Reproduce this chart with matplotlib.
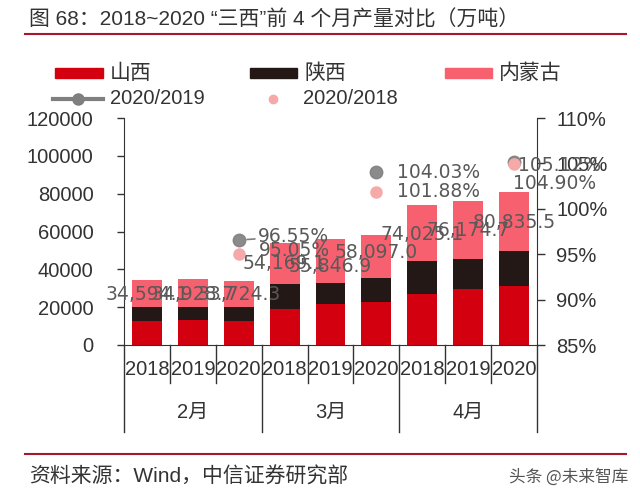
import matplotlib
matplotlib.use('Agg')
import matplotlib.pyplot as plt
from matplotlib.lines import Line2D
from matplotlib.patches import Rectangle
import matplotlib.transforms as mtransforms

plt.rcParams['font.family'] = ['Liberation Sans', 'Noto Sans CJK SC']

# data (万吨)
months = ['2月', '3月', '4月']
years = ['2018', '2019', '2020']
shanxi = [12700, 13200, 12700, 19200, 21850, 22600, 27150, 29800, 31200]
shaanxi = [7560, 7060, 7560, 12900, 10790, 12800, 17450, 15500, 18700]
neimeng = [14334.1, 14668.7, 13464.3, 22069.1, 23206.9, 22697.0, 29425.1, 30874.7, 30935.5]
totals = [34594.1, 34928.7, 33724.3, 54169.1, 55846.9, 58097.0, 74025.1, 76174.7, 80835.5]
pct_2019 = [0.9655, 1.0403, 1.0512]
pct_2018 = [0.9505, 1.0188, 1.0490]

# label offsets in pixels (layout only)
total_dy = [-15, -16, -13, -21, -27, -17, -30, -30, -30]
off_2019 = [(19, 4), (21, 0), (4, -3)]
off_2018 = [(20, 3), (21, 0), (-1, -19)]

red = '#d3000f'
black = '#231815'
pink = '#f6606f'
gray = '#7f7f7f'
lpink = '#f6a9a9'
txtc = '#333333'
lblc = '#595959'

fig = plt.figure(figsize=(6.4, 4.98), dpi=100)
ax = fig.add_axes([124/640, 1-345/498, 413/640, 227/498])

x = list(range(len(totals)))
w = 0.65
bot2 = shanxi
bot3 = [a + b for a, b in zip(shanxi, shaanxi)]
ax.bar(x, shanxi, w, color=red, zorder=2)
ax.bar(x, shaanxi, w, bottom=bot2, color=black, zorder=2)
ax.bar(x, neimeng, w, bottom=bot3, color=pink, zorder=2)

for i, t in enumerate(totals):
    ax.annotate('{:,.1f}'.format(t), (x[i], t), xytext=(0, total_dy[i]),
                textcoords='offset pixels', ha='center', va='center',
                fontsize=13.5, family='DejaVu Sans', color=lblc,
                annotation_clip=False, zorder=5)

ax.set_xlim(-0.5, 8.5)
ax.set_ylim(0, 120000)
ax.set_yticks(range(0, 120001, 20000))
ax.set_xticks([])
for s in ['top', 'right']:
    ax.spines[s].set_visible(False)
ax.spines['left'].set_color(txtc)
ax.spines['bottom'].set_color(txtc)
ax.tick_params(axis='y', direction='out', length=5, width=1, color=txtc,
               labelsize=14.5, labelcolor=txtc, pad=17)

# category axis
tr = mtransforms.blended_transform_factory(ax.transData, ax.transAxes)
for k in range(10):
    xs = k - 0.5
    yb = -0.383 if k % 3 == 0 else -0.167
    ax.add_line(Line2D([xs, xs], [0, yb], transform=tr, color=txtc, lw=1, clip_on=False))
for i in x:
    ax.text(i, -0.106, years[i % 3], transform=tr, ha='center', va='center',
            fontsize=14.5, color=txtc)
for m, name in enumerate(months):
    ax.text(m*3 + 1, -0.295, name, transform=tr, ha='center', va='center',
            fontsize=14.5, color=txtc)

# right axis
ax2 = ax.twinx()
ax2.set_ylim(0.85, 1.10)
ax2.set_yticks([0.85, 0.90, 0.95, 1.00, 1.05, 1.10])
ax2.set_yticklabels(['{:.0f}%'.format(v*100) for v in ax2.get_yticks()])
for s in ['top', 'left', 'bottom']:
    ax2.spines[s].set_visible(False)
ax2.spines['right'].set_color(txtc)
ax2.tick_params(axis='y', direction='out', length=6, width=1, color=txtc,
                labelsize=14.5, labelcolor=txtc, pad=8)

px = [2, 5, 8]
ax2.plot(px, pct_2019, 'o', color=gray, ms=9, alpha=0.9, clip_on=False, zorder=4)
ax2.plot(px, pct_2018, 'o', color=lpink, ms=8, clip_on=False, zorder=4)
for i in range(3):
    ax2.annotate('{:.2f}%'.format(pct_2019[i]*100), (px[i], pct_2019[i]),
                 xytext=off_2019[i], textcoords='offset pixels', ha='left', va='center',
                 fontsize=13.5, family='DejaVu Sans', color=lblc, annotation_clip=False,
                 arrowprops=dict(arrowstyle='-', color=gray, lw=1.2, shrinkA=0, shrinkB=6) if i == 0 else None,
                 zorder=5)
    ax2.annotate('{:.2f}%'.format(pct_2018[i]*100), (px[i], pct_2018[i]),
                 xytext=off_2018[i], textcoords='offset pixels', ha='left', va='center',
                 fontsize=13.5, family='DejaVu Sans', color=lblc, annotation_clip=False,
                 zorder=5)

# legend, drawn by hand
def fx(p):
    return p / 640

def fy(p):
    return 1 - p / 498

for (x0, x1, c, lab) in [(55, 103, red, '山西'), (250, 297, black, '陕西'), (445, 492, pink, '内蒙古')]:
    fig.add_artist(Rectangle((fx(x0), fy(78)), fx(x1 - x0), 10/498, color=c, transform=fig.transFigure))
    fig.text(fx(x1 + 7), fy(73), lab, fontsize=15, color=txtc, va='center')
fig.add_artist(Line2D([fx(53), fx(103)], [fy(99), fy(99)], color=gray, lw=3, transform=fig.transFigure))
fig.add_artist(Line2D([fx(78)], [fy(99)], marker='o', ms=8, color=gray, transform=fig.transFigure))
fig.text(fx(110), fy(99), '2020/2019', fontsize=14.5, color=txtc, va='center')
fig.add_artist(Line2D([fx(273)], [fy(99)], marker='o', ms=6, color=lpink, lw=0, transform=fig.transFigure))
fig.text(fx(303), fy(99), '2020/2018', fontsize=14.5, color=txtc, va='center')

# title & footer
fig.text(fx(29), fy(20), '图 68：2018~2020 “三西”前 4 个月产量对比（万吨）',
         fontsize=15, color=txtc, va='center')
fig.add_artist(Line2D([fx(25), fx(626)], [fy(34), fy(34)], color='#a8162c', lw=1.5, transform=fig.transFigure))
fig.add_artist(Line2D([fx(25), fx(626)], [fy(454), fy(454)], color='#a8162c', lw=1.5, transform=fig.transFigure))
fig.text(fx(29), fy(477), '资料来源：Wind，中信证券研究部', fontsize=15, color=txtc, va='center')
fig.text(fx(628), fy(477), '头条 @未来智库', fontsize=12, color='#555555', va='center', ha='right',
         family=['Noto Sans CJK SC', 'DejaVu Sans'])

fig.savefig('out.png', dpi=100)
